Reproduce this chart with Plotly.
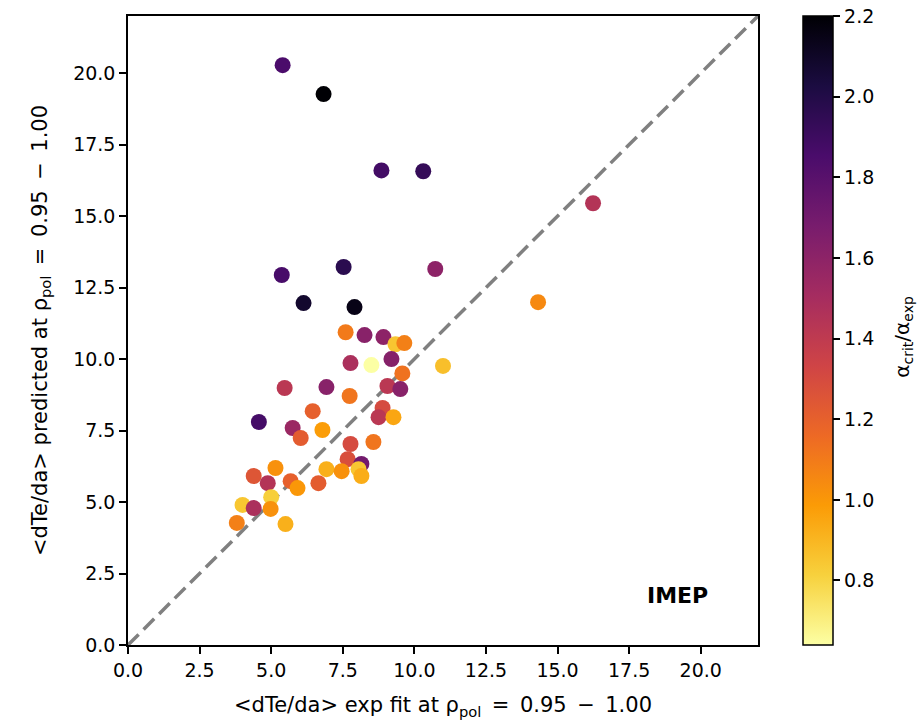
import plotly.graph_objects as go

# Measured edge gradient vs. model prediction, coloured by alpha_crit/alpha_exp
dte_exp = [5.40, 6.83, 8.85, 10.31, 5.37, 7.53, 10.73, 6.13, 7.91, 16.24, 14.32,
           7.60, 8.26, 8.92, 9.34, 9.65, 7.77, 8.50, 9.20, 11.00, 9.58,
           5.47, 6.93, 9.06, 9.51, 7.74, 6.45, 8.89, 8.75, 9.27, 4.57,
           5.75, 6.03, 6.79, 8.57, 7.77, 7.67, 8.15, 8.05, 8.15, 6.93,
           7.46, 6.65, 5.15, 4.39, 4.88, 5.68, 5.92, 4.00, 5.00, 4.39,
           4.98, 3.80, 5.50]
dte_pred = [20.28, 19.27, 16.60, 16.57, 12.94, 13.22, 13.15, 11.96, 11.82, 15.45, 11.99,
            10.94, 10.84, 10.77, 10.52, 10.56, 9.86, 9.79, 10.00, 9.76, 9.50,
            8.99, 9.02, 9.06, 8.95, 8.71, 8.18, 8.29, 7.97, 7.97, 7.80,
            7.59, 7.24, 7.52, 7.10, 7.03, 6.50, 6.33, 6.15, 5.91, 6.15,
            6.08, 5.66, 6.19, 5.91, 5.66, 5.73, 5.49, 4.90, 5.17, 4.79,
            4.76, 4.27, 4.23]
alpha_ratio = [1.85, 2.20, 1.88, 1.93, 1.86, 1.97, 1.60, 2.08, 2.15, 1.45, 1.05,
               1.10, 1.62, 1.60, 0.85, 1.08, 1.48, 0.64, 1.63, 0.87, 1.13,
               1.42, 1.62, 1.42, 1.62, 1.12, 1.20, 1.30, 1.42, 0.95, 1.87,
               1.55, 1.22, 0.98, 1.12, 1.30, 1.28, 1.70, 0.85, 0.93, 0.92,
               1.02, 1.22, 1.02, 1.25, 1.45, 1.20, 1.00, 0.85, 0.82, 1.48,
               1.02, 1.08, 0.92]

axis_max = 22
tick_vals = [0, 2.5, 5, 7.5, 10, 12.5, 15, 17.5, 20]
tick_text = [f"{v:.1f}" for v in tick_vals]
cbar_ticks = [0.8, 1.0, 1.2, 1.4, 1.6, 1.8, 2.0, 2.2]

font = "DejaVu Sans, Liberation Sans, sans-serif"
fs = 19
ens = "\u2002"  # wider spacing around the relation signs
rho_range = f"ρ<sub>pol</sub>{ens}={ens}0.95{ens}−{ens}1.00"

fig = go.Figure()

# identity line
fig.add_trace(go.Scatter(
    x=[0, axis_max], y=[0, axis_max], mode="lines",
    line=dict(color="#808080", width=3.5, dash="15px,7px"),
    hoverinfo="skip", showlegend=False,
))

fig.add_trace(go.Scatter(
    x=dte_exp, y=dte_pred, mode="markers", showlegend=False,
    marker=dict(
        size=16, color=alpha_ratio, colorscale="Inferno", reversescale=True,
        cmin=min(alpha_ratio), cmax=2.2, line=dict(width=0),
        colorbar=dict(
            x=1.071, xanchor="left", y=0.5, yanchor="middle", len=1.0,
            lenmode="fraction", thickness=30, ypad=0, xpad=0,
            outlinewidth=1.5, outlinecolor="black",
            tickvals=cbar_ticks, ticktext=[f"{v:.1f}" for v in cbar_ticks],
            ticks="outside", ticklen=7, tickwidth=1.5, tickcolor="black",
            tickfont=dict(family=font, size=fs, color="black"),
        ),
    ),
))

axis_style = dict(
    range=[0, axis_max], tickvals=tick_vals, ticktext=tick_text,
    showline=True, linecolor="black", linewidth=1.5, mirror=True,
    ticks="outside", ticklen=7, tickwidth=1.5, tickcolor="black",
    showgrid=False, zeroline=False, automargin=False,
    tickfont=dict(family=font, size=fs, color="black"),
)

fig.update_xaxes(**axis_style, title=dict(
    text=f"<dTe/da> exp fit at {rho_range}",
    font=dict(family=font, size=21, color="black"), standoff=18))
fig.update_yaxes(**axis_style, title=dict(
    text=f"<dTe/da> predicted at {rho_range}",
    font=dict(family=font, size=21, color="black"), standoff=20))

# colourbar label
fig.add_annotation(
    x=1.230, y=0.49, xref="paper", yref="paper", textangle=-90,
    xanchor="center", yanchor="middle",
    text="α<sub>crit</sub>/α<sub>exp</sub>", showarrow=False,
    font=dict(family=font, size=20, color="black"),
)

fig.add_annotation(
    x=0.873, y=0.079, xref="paper", yref="paper", text="<b>IMEP</b>",
    xanchor="center", yanchor="middle",
    showarrow=False, font=dict(family=font, size=22, color="black"),
)

fig.update_layout(
    width=917, height=721,
    margin=dict(l=128, r=159, t=16, b=76),
    plot_bgcolor="white", paper_bgcolor="white",
    font=dict(family=font, color="black"),
)

fig.write_html("out.html")
